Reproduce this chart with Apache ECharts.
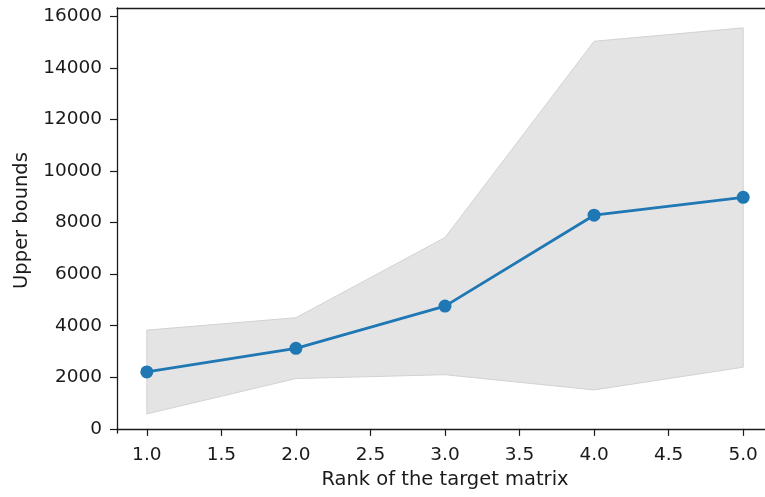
<!DOCTYPE html>
<html><head><meta charset="utf-8">
<script src="https://cdn.jsdelivr.net/npm/echarts@6/dist/echarts.min.js"></script>
<style>html,body{margin:0;padding:0;background:#fff}#c{width:765px;height:497px}</style>
</head><body><div id="c"></div>
<script>
const ranks = [1, 2, 3, 4, 5];
const meanBounds = [2210, 3125, 4760, 8285, 8980];
const upperBand = [3830, 4310, 7420, 15030, 15550];
const lowerBand = [580, 1950, 2100, 1510, 2390];
const xTicks = [1.0, 1.5, 2.0, 2.5, 3.0, 3.5, 4.0, 4.5, 5.0];
const yTicks = [0, 2000, 4000, 6000, 8000, 10000, 12000, 14000, 16000];

const font = 'DejaVu Sans';
const ink = '#1a1a1a';
const chart = echarts.init(document.getElementById('c'), null, {renderer: 'canvas'});
chart.setOption({
  animation: false,
  grid: {left: 117, right: -8, top: 8, bottom: 64, show: false, outerBoundsMode: 'none', containLabel: false},
  xAxis: [{
    type: 'value', min: 0.8, max: 5.2,
    name: 'Rank of the target matrix', nameLocation: 'middle', nameGap: 37,
    nameTextStyle: {fontFamily: font, fontSize: 19.5, color: ink},
    axisLine: {show: true, lineStyle: {color: ink, width: 1.3}},
    axisTick: {show: true, length: 7, customValues: xTicks, lineStyle: {color: ink, width: 1.2}},
    axisLabel: {customValues: xTicks, formatter: v => v.toFixed(1), fontFamily: font, fontSize: 18.5, color: ink, margin: 13},
    splitLine: {show: false}
  }, {
    type: 'value', position: 'top', min: 0.8, max: 5.2,
    axisLine: {show: true, lineStyle: {color: ink, width: 1.3}},
    axisTick: {show: false}, axisLabel: {show: false}, splitLine: {show: false}
  }],
  yAxis: {
    type: 'value', min: -160, max: 16320,
    name: 'Upper bounds', nameLocation: 'middle', nameGap: 83, nameRotate: 90,
    nameTextStyle: {fontFamily: font, fontSize: 19.5, color: ink},
    axisLine: {show: true, lineStyle: {color: ink, width: 1.3}},
    axisTick: {show: true, length: 7, customValues: yTicks, lineStyle: {color: ink, width: 1.2}},
    axisLabel: {customValues: yTicks, formatter: v => String(v), fontFamily: font, fontSize: 18.5, color: ink, margin: 15},
    splitLine: {show: false}
  },
  series: [
    {
      type: 'custom',
      data: ranks.map((r, i) => [r, lowerBand[i], upperBand[i]]),
      renderItem: function (params, api) {
        if (params.dataIndex !== 0) return null;
        const pts = [];
        for (let i = 0; i < ranks.length; i++) pts.push(api.coord([ranks[i], upperBand[i]]));
        for (let i = ranks.length - 1; i >= 0; i--) pts.push(api.coord([ranks[i], lowerBand[i]]));
        return {type: 'polygon', shape: {points: pts}, style: {fill: '#e4e4e4', stroke: '#d2d2d2', lineWidth: 1}};
      },
      z: 1, silent: true
    },
    {
      type: 'line',
      data: ranks.map((r, i) => [r, meanBounds[i]]),
      symbol: 'circle', symbolSize: 13,
      lineStyle: {color: '#1f77b4', width: 2.8},
      itemStyle: {color: '#1f77b4'},
      z: 3
    }
  ]
});
</script></body></html>
